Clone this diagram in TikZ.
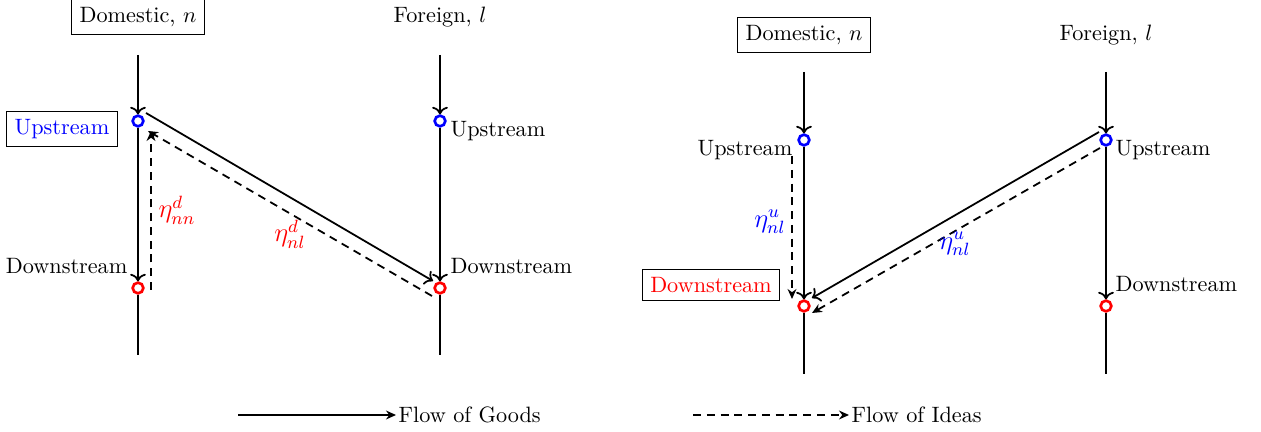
\documentclass[tikz,border=0pt]{standalone}
\usetikzlibrary{arrows.meta}
\begin{document}
\begin{tikzpicture}[x=0.45pt,y=-0.45pt,
  goods/.style={thick,->},
  ideas/.style={thick,dash pattern=on 3.6pt off 2.6pt,-{Stealth[length=4.5pt,width=4pt]}},
  plain/.style={thick},
  dot/.style={circle,draw=#1,line width=1.2pt,inner sep=0pt,minimum size=4.8pt},
  boxed/.style={draw,inner sep=3.5pt},
  lab/.style={inner sep=1pt},
  eta/.style={inner sep=1pt,font=\large}]
\useasboundingbox (0,0) rectangle (1261,432);

% ---------------- Left panel ----------------
\node[boxed] (Ldom) at (138,17) {Domestic, $n$};
\node[lab] (Lfor) at (440,17) {Foreign, $l$};
\coordinate (LdT) at (138,55);
\coordinate (LdB) at (138,355);
\coordinate (LfT) at (440,55);
\coordinate (LfB) at (440,355);
\node[dot=blue] (LdU) at (138,121) {};
\node[dot=red]  (LdD) at (138,288) {};
\node[dot=blue] (LfU) at (440,121) {};
\node[dot=red]  (LfD) at (440,288) {};

\draw[goods] (LdT) -- (LdU);
\draw[goods] (LdU) -- (LdD);
\draw[plain] (LdD) -- (LdB);
\draw[goods] (LfT) -- (LfU);
\draw[goods] (LfU) -- (LfD);
\draw[plain] (LfD) -- (LfB);

\node[boxed,text=blue] (LupBox) at (62,129) {Upstream};
\node[lab,anchor=east] (LdnLab) at (130,266) {Downstream};
\node[lab,anchor=west] (LfupLab) at (448,131) {Upstream};
\node[lab,anchor=west] (LfdnLab) at (448,266) {Downstream};

\draw[goods] ([shift={(8,-8)}]LdU.center) -- ([shift={(-7,-7)}]LfD.center);
\draw[ideas] ([shift={(-8,8)}]LfD.center) -- ([shift={(10,10)}]LdU.center);
\draw[ideas] ([shift={(13,2)}]LdD.center) -- ([shift={(13,10)}]LdU.center);

\node[eta,text=red] (Lenn) at (177,210) {$\eta^{d}_{nn}$};
\node[eta,text=red] (Lenl) at (290,234) {$\eta^{d}_{nl}$};

% ---------------- Right panel ----------------
\node[boxed] (Rdom) at (804,35) {Domestic, $n$};
\node[lab] (Rfor) at (1106,35) {Foreign, $l$};
\coordinate (RdT) at (804,72);
\coordinate (RdB) at (804,374);
\coordinate (RfT) at (1106,72);
\coordinate (RfB) at (1106,374);
\node[dot=blue] (RdU) at (804,140) {};
\node[dot=red]  (RdD) at (804,306) {};
\node[dot=blue] (RfU) at (1106,140) {};
\node[dot=red]  (RfD) at (1106,306) {};

\draw[goods] (RdT) -- (RdU);
\draw[goods] (RdU) -- (RdD);
\draw[plain] (RdD) -- (RdB);
\draw[goods] (RfT) -- (RfU);
\draw[goods] (RfU) -- (RfD);
\draw[plain] (RfD) -- (RfB);

\node[lab,anchor=east] (RupLab) at (795,150) {Upstream};
\node[boxed,text=red] (RdnBox) at (711,285) {Downstream};
\node[lab,anchor=west] (RfupLab) at (1113,150) {Upstream};
\node[lab,anchor=west] (RfdnLab) at (1113,284) {Downstream};

\draw[goods] ([shift={(-7,-8)}]RfU.center) -- ([shift={(8,-8)}]RdD.center);
\draw[ideas] ([shift={(-6,8)}]RfU.center) -- ([shift={(8,7)}]RdD.center);
\draw[ideas] ([shift={(-12,-150)}]RdD.center) -- ([shift={(-12,-7)}]RdD.center);

\node[eta,text=blue] (Renl1) at (770,222) {$\eta^{u}_{nl}$};
\node[eta,text=blue] (Renl2) at (955,244) {$\eta^{u}_{nl}$};

% ---------------- Legend ----------------
\coordinate (G1) at (238,415);
\node[lab,anchor=west] (G2) at (396,415) {Flow of Goods};
\draw[thick,-{Stealth[length=4.5pt,width=4pt]}] (G1) -- (G2.west);
\coordinate (I1) at (693,415);
\node[lab,anchor=west] (I2) at (849,415) {Flow of Ideas};
\draw[ideas] (I1) -- (I2.west);
\end{tikzpicture}
\end{document}
